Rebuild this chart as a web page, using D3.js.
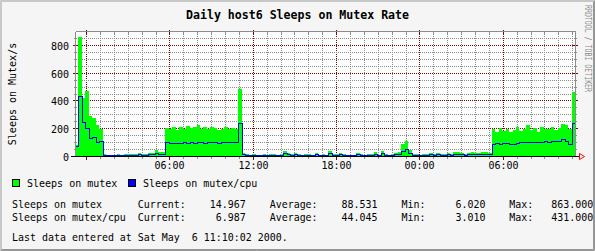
<!DOCTYPE html>
<html>
<head>
<meta charset="utf-8">
<script src="https://cdn.jsdelivr.net/npm/d3@7"></script>
<style>
    body { margin: 0; background: #fff; }
    svg { display: block; }
    text { font-family: "DejaVu Sans Mono", monospace; font-size: 10px; fill: #000; }
</style>
</head>
<body>
<div id="chart"></div>
<script>
// Image size and the plot box (rrdtool style)
let width = 595;
let height = 251;
let plot = {left: 75, right: 575, top: 31.5, bottom: 156.5};

// Time range of the graph, one sample every 15 minutes
const startTime = new Date(2000, 4, 4, 23, 10, 2);
const endTime = new Date(2000, 4, 6, 11, 10, 2);
const stepMinutes = 15;

// Sleeps on mutex (area)
const mutex = [
    80, 863, 420, 470, 290, 280, 230, 200,
    15, 12, 10, 14, 18, 12, 16, 20, 15, 18, 22, 17, 20, 24, 28, 45, 30, 35,
    205, 195, 210, 190, 215, 200, 220, 205, 210, 225, 200, 215, 195, 210, 205, 190, 200, 215, 195, 205, 200,
    484,
    25, 15, 12, 18, 14, 10, 16, 12, 20, 15, 12, 18, 40, 22, 15, 25, 18, 14, 20, 16, 12, 22, 14,
    18, 12, 42, 20, 15, 22, 18, 12, 10, 14, 25, 15, 12, 18, 20, 35, 14, 40, 16, 12, 18, 25,
    35, 90, 115, 45, 15,
    18, 14, 20, 16, 22, 18, 25, 20, 15, 22, 18, 30, 35, 28, 20, 25, 30, 22, 28, 35, 30, 25,
    195, 180, 205, 185, 200, 175, 190, 210, 185, 200, 226, 190, 205, 180, 210, 195, 200, 215, 190, 205, 235, 230, 200,
    467
];

// Sleeps on mutex/cpu (line)
const mutexCpu = [
    70, 431, 245, 200, 130, 140, 100, 105,
    8, 6, 5, 7, 9, 6, 8, 10, 8, 9, 11, 9, 10, 12, 14, 22, 15, 18,
    100, 92, 95, 97, 93, 98, 96, 100, 95, 102, 98, 96, 100, 103, 99, 97, 101, 104, 98, 100, 102,
    239,
    12, 8, 6, 9, 7, 5, 8, 6, 10, 8, 6, 9, 20, 11, 8, 12, 9, 7, 10, 8, 6, 11, 7,
    9, 6, 21, 10, 8, 11, 9, 6, 5, 7, 12, 8, 6, 9, 10, 17, 7, 20, 8, 6, 9, 12,
    15, 35, 47, 25, 8,
    9, 7, 10, 8, 11, 9, 12, 10, 7, 11, 9, 15, 18, 14, 10, 12, 15, 11, 14, 18, 15, 12,
    90, 92, 88, 91, 93, 90, 89, 95, 100, 98, 102, 99, 101, 100, 103, 106, 104, 107, 105, 106, 119, 110, 90,
    239
];

// Axis ticks
const yMax = 900;
const yLabels = [0, 200, 400, 600, 800];
const xLabelTimes = [
    new Date(2000, 4, 5, 6, 0), new Date(2000, 4, 5, 12, 0), new Date(2000, 4, 5, 18, 0),
    new Date(2000, 4, 6, 0, 0), new Date(2000, 4, 6, 6, 0)
];

// Legend and summary
const legendNames = ["Sleeps on mutex", "Sleeps on mutex/cpu"];
const legendColors = ["#00ff00", "#0000ff"];
const currentVals = [14.967, 6.987];
const averageVals = [88.531, 44.045];
const minVals = [6.020, 3.010];
const maxVals = [863.000, 431.000];
const title = "Daily host6 Sleeps on Mutex Rate";
const yTitle = "Sleeps on Mutex/s";
const footer = "Last data entered at Sat May  6 11:10:02 2000.";

let svg = d3.select('#chart')
    .append('svg')
    .attr('width', width)
    .attr('height', height);

// background and 3d border
svg.append('rect').attr('width', width).attr('height', height).attr('fill', '#f5f5f5');
const bevel = [
    [0.5, 0.5, width - 0.5, 0.5, '#c8c8c8'], [1.5, 1.5, width - 1.5, 1.5, '#c8c8c8'],
    [0.5, 0.5, 0.5, height - 0.5, '#c8c8c8'], [1.5, 1.5, 1.5, height - 1.5, '#c8c8c8'],
    [width - 0.5, 0.5, width - 0.5, height - 0.5, '#969696'], [width - 1.5, 1.5, width - 1.5, height - 1.5, '#969696'],
    [0.5, height - 0.5, width - 0.5, height - 0.5, '#969696'], [1.5, height - 1.5, width - 1.5, height - 1.5, '#969696']
];
svg.selectAll('line.bevel').data(bevel).enter().append('line')
    .attr('x1', d => d[0]).attr('y1', d => d[1]).attr('x2', d => d[2]).attr('y2', d => d[3])
    .attr('stroke', d => d[4]);

// canvas
svg.append('rect')
    .attr('x', plot.left).attr('y', plot.top)
    .attr('width', plot.right - plot.left).attr('height', plot.bottom - plot.top)
    .attr('fill', '#fff');

let xScale = d3.scaleTime()
    .domain([startTime, endTime])
    .range([plot.left, plot.right]);

let yScale = d3.scaleLinear()
    .domain([0, yMax])
    .range([plot.bottom, plot.top]);

// grid: hours and every 50 units, majors every 6h / 200 units
// dotted lines start on whole pixels so each dot fills one pixel
let g = svg.append('g');
let gt = svg.append('g').attr('shape-rendering', 'crispEdges');

let hours = d3.timeHour.range(startTime, endTime);
hours.forEach(h => {
    let x = Math.floor(xScale(h)) + 0.5;
    let major = h.getHours() % 6 === 0;
    let col = major ? '#820000' : '#8c8c8c';
    g.append('line')
        .attr('x1', x).attr('x2', x).attr('y1', 32).attr('y2', 156)
        .attr('stroke', col).attr('stroke-dasharray', '1,1');
    let t = major ? 2 : 1;
    gt.append('line').attr('x1', x).attr('x2', x).attr('y1', plot.bottom - t).attr('y2', plot.bottom + t + 1).attr('stroke', col);
    gt.append('line').attr('x1', x).attr('x2', x).attr('y1', plot.top - t).attr('y2', plot.top + t + 1).attr('stroke', col);
});

d3.range(50, yMax, 50).forEach(v => {
    let y = Math.floor(yScale(v)) + 0.5;
    let major = v % 200 === 0;
    let col = major ? '#820000' : '#8c8c8c';
    g.append('line')
        .attr('x1', plot.left + 1).attr('x2', plot.right).attr('y1', y).attr('y2', y)
        .attr('stroke', col).attr('stroke-dasharray', '1,1');
    let t = major ? 2 : 1;
    gt.append('line').attr('x1', plot.left - t).attr('x2', plot.left + t + 1).attr('y1', y).attr('y2', y).attr('stroke', col);
    gt.append('line').attr('x1', plot.right - t).attr('x2', plot.right + t + 1).attr('y1', y).attr('y2', y).attr('stroke', col);
});

// samples with their times, last step held to the end
function toPoints(values) {
    let pts = values.map((v, i) => ({t: d3.timeMinute.offset(startTime, i * stepMinutes), v: v}));
    pts.push({t: endTime, v: values[values.length - 1]});
    return pts;
}

let area = d3.area()
    .x(d => Math.round(xScale(d.t)))
    .y0(yScale(0))
    .y1(d => Math.round(yScale(d.v)))
    .curve(d3.curveStepAfter);

svg.append('path')
    .datum(toPoints(mutex))
    .attr('d', area)
    .attr('fill', legendColors[0])
    .attr('shape-rendering', 'crispEdges');

let line = d3.line()
    .x(d => Math.round(xScale(d.t)) + 0.5)
    .y(d => Math.floor(yScale(d.v)) + 0.5)
    .curve(d3.curveStepAfter);

svg.append('path')
    .datum(toPoints(mutexCpu))
    .attr('d', line)
    .attr('fill', 'none')
    .attr('stroke', legendColors[1])
    .attr('stroke-width', 1)
    .attr('shape-rendering', 'crispEdges');

// frame and axes
let ax = svg.append('g').attr('shape-rendering', 'crispEdges');
ax.append('line').attr('x1', plot.left + 0.5).attr('x2', plot.right + 0.5).attr('y1', plot.top).attr('y2', plot.top).attr('stroke', '#8c8c8c');
ax.append('line').attr('x1', plot.right + 0.5).attr('x2', plot.right + 0.5).attr('y1', plot.top).attr('y2', plot.bottom).attr('stroke', '#8c8c8c');
ax.append('line').attr('x1', plot.left + 0.5).attr('x2', plot.left + 0.5).attr('y1', plot.top).attr('y2', plot.bottom).attr('stroke', '#8c8c8c');
ax.append('line').attr('x1', plot.left - 4).attr('x2', plot.right + 5).attr('y1', plot.bottom).attr('y2', plot.bottom).attr('stroke', '#000');

// red arrow at the end of the x axis
let ax0 = plot.right + 4.5;
svg.append('path')
    .attr('d', `M${ax0},${plot.bottom - 3}L${ax0},${plot.bottom + 3}L${ax0 + 5},${plot.bottom}Z`)
    .attr('fill', 'none')
    .attr('stroke', '#ff0000');

// y labels
svg.selectAll('text.ylab').data(yLabels).enter().append('text')
    .attr('x', 69)
    .attr('y', d => Math.floor(yScale(d)) + 4.5)
    .attr('text-anchor', 'end')
    .text(d => d);

// x labels
svg.selectAll('text.xlab').data(xLabelTimes).enter().append('text')
    .attr('x', d => Math.floor(xScale(d)) + 0.5)
    .attr('y', 169)
    .attr('text-anchor', 'middle')
    .text(d3.timeFormat('%H:%M'));

// title
svg.append('text')
    .attr('x', 297.5).attr('y', 19)
    .attr('text-anchor', 'middle')
    .style('font-weight', 'bold').style('font-size', '12px')
    .attr('textLength', 223).attr('lengthAdjust', 'spacingAndGlyphs')
    .text(title);

// y axis title
svg.append('text')
    .attr('transform', 'translate(16, 94) rotate(-90)')
    .attr('text-anchor', 'middle')
    .text(yTitle);

// watermark on the right
svg.append('text')
    .attr('transform', 'translate(585, 5) rotate(90)')
    .attr('textLength', 87).attr('lengthAdjust', 'spacingAndGlyphs')
    .style('font-size', '9px').style('fill', '#8c8c8c')
    .text('RRDTOOL / TOBI OETIKER');

// legend
const legendX = [12, 128];
legendNames.forEach((name, i) => {
    svg.append('rect')
        .attr('x', legendX[i] + 0.5).attr('y', 179.5)
        .attr('width', 7).attr('height', 7)
        .attr('fill', legendColors[i]).attr('stroke', '#000')
        .attr('shape-rendering', 'crispEdges');
    svg.append('text')
        .attr('x', legendX[i] + 15).attr('y', 187)
        .text(name);
});

// summary lines, fixed width columns
let fmt = d3.format('.3f');
let rows = legendNames.map((name, i) =>
    name.padEnd(21) +
    'Current:' + fmt(currentVals[i]).padStart(10) +
    '    Average:' + fmt(averageVals[i]).padStart(10) +
    '    Min:' + fmt(minVals[i]).padStart(10) +
    '    Max:' + fmt(maxVals[i]).padStart(10));
rows.push(footer);
const rowY = [208, 221, 241];
rows.forEach((r, i) => {
    svg.append('text')
        .attr('x', 12).attr('y', rowY[i])
        .attr('xml:space', 'preserve')
        .style('white-space', 'pre')
        .style('font-size', '9.96px')
        .text(r);
});
</script>
</body>
</html>
